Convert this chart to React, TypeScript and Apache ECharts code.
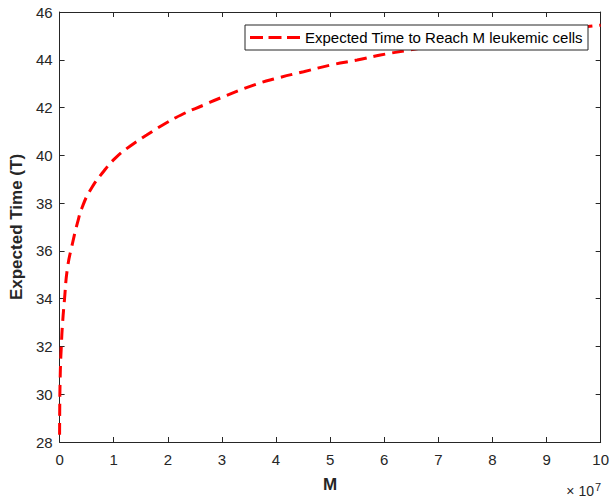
import React, { useEffect, useRef } from "react";
import * as echarts from "echarts";

// M values in units of 10^7
const mValues = [0.0002, 0.003, 0.01, 0.02, 0.03, 0.05, 0.09, 0.147, 0.24, 0.33, 0.42, 0.57, 0.79, 1.03, 1.3, 1.61, 1.93, 2.29, 2.66, 2.97, 3.6, 4.04, 4.51, 5.01, 5.5, 5.93, 6.48, 7.0, 8.0, 9.0, 10.0];
const tValues = [28.3, 29.5, 30.6, 31.4, 31.9, 32.8, 33.95, 35.3, 36.33, 37.17, 37.84, 38.55, 39.26, 39.88, 40.38, 40.85, 41.3, 41.74, 42.1, 42.4, 42.95, 43.24, 43.5, 43.78, 43.99, 44.2, 44.41, 44.6, 44.91, 45.2, 45.45];
const seriesName = "Expected Time to Reach M leukemic cells";

const FONT = "Liberation Sans, Arial, Helvetica, sans-serif";
const AX = "#262626";
const RED = "#ff0000";

export default function App() {
  const ref = useRef<HTMLDivElement>(null);
  useEffect(() => {
    if (!ref.current) return;
    const chart = echarts.init(ref.current, null, { renderer: "svg" });
    const axisCommon = {
      axisLine: { show: true, onZero: false, lineStyle: { color: AX, width: 1 } },
      axisTick: { show: true, inside: true, length: 5, lineStyle: { color: AX } },
      splitLine: { show: false },
    };
    const legendY = 37.5;
    const dash = (x1: number, x2: number) => ({
      type: "line",
      shape: { x1, y1: legendY, x2, y2: legendY },
      style: { stroke: RED, lineWidth: 3 },
      z: 101,
    });
    chart.setOption({
      animation: false,
      backgroundColor: "#ffffff",
      textStyle: { fontFamily: FONT },
      grid: { left: 57, right: 10, top: 12, bottom: 58 },
      legend: { show: false, data: [seriesName] },
      xAxis: [
        {
          type: "value",
          min: 0,
          max: 10,
          interval: 1,
          position: "bottom",
          name: "M",
          nameLocation: "middle",
          nameGap: 34,
          nameTextStyle: { fontSize: 17, fontWeight: "bold", color: AX, fontFamily: FONT },
          axisLabel: { fontSize: 15, color: AX, margin: 10, fontFamily: FONT },
          ...axisCommon,
        },
        {
          type: "value",
          min: 0,
          max: 10,
          interval: 1,
          position: "top",
          axisLabel: { show: false },
          ...axisCommon,
        },
      ],
      yAxis: [
        {
          type: "value",
          min: 28,
          max: 46,
          interval: 2,
          position: "left",
          name: "Expected Time (T)",
          nameLocation: "middle",
          nameGap: 34,
          nameTextStyle: { fontSize: 17, fontWeight: "bold", color: AX, fontFamily: FONT },
          axisLabel: { fontSize: 15, color: AX, margin: 7, fontFamily: FONT },
          ...axisCommon,
        },
        {
          type: "value",
          min: 28,
          max: 46,
          interval: 2,
          position: "right",
          axisLabel: { show: false },
          ...axisCommon,
        },
      ],
      graphic: [
        {
          type: "rect",
          shape: { x: 245, y: 25, width: 343, height: 25 },
          style: { fill: "#ffffff", stroke: AX, lineWidth: 1 },
          z: 100,
        },
        dash(250, 263),
        dash(268.5, 281.5),
        dash(287, 300),
        {
          type: "text",
          x: 305,
          y: legendY,
          z: 101,
          style: { text: seriesName, fontSize: 15, fill: "#000", fontFamily: FONT, align: "left", verticalAlign: "middle" },
        },
        {
          type: "text",
          x: 594,
          y: 498,
          style: { text: "\u00d7 10", fontSize: 14, fill: AX, fontFamily: FONT, align: "right", verticalAlign: "bottom" },
        },
        {
          type: "text",
          x: 595,
          y: 481,
          style: { text: "7", fontSize: 11, fill: AX, fontFamily: FONT, align: "left", verticalAlign: "top" },
        },
      ],
      series: [
        {
          name: seriesName,
          type: "line",
          data: mValues.map((m, i) => [m, tValues[i]]),
          smooth: 0.5,
          showSymbol: false,
          symbol: "none",
          lineStyle: { color: RED, width: 3, type: [12, 7] },
          itemStyle: { color: RED },
          xAxisIndex: 0,
          yAxisIndex: 0,
        },
      ],
    });
    return () => chart.dispose();
  }, []);
  return (
    <div
      ref={ref}
      style={{ position: "fixed", left: 0, top: 0, width: 612, height: 500 }}
    />
  );
}
